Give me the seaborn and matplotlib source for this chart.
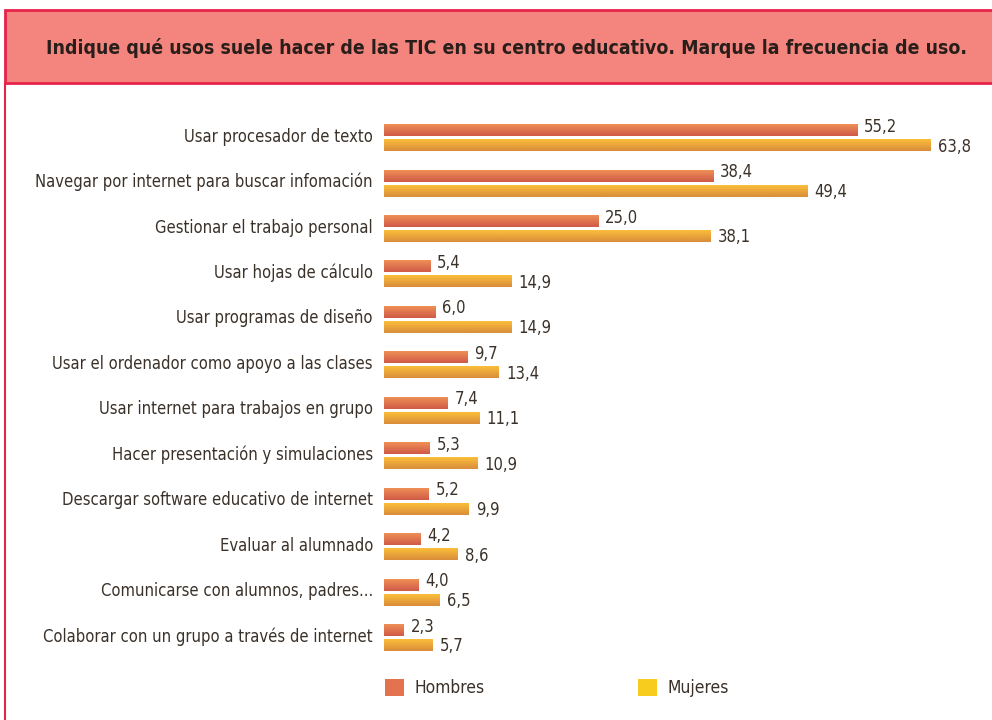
import matplotlib
matplotlib.use("Agg")
import matplotlib.pyplot as plt
import seaborn as sns
import pandas as pd
import numpy as np
from matplotlib import font_manager
from matplotlib.patches import Rectangle, Patch
from matplotlib.lines import Line2D
from matplotlib.textpath import TextPath
from matplotlib.font_manager import FontProperties
from matplotlib.colors import LinearSegmentedColormap
import matplotlib.transforms as mtransforms

categories = [
    "Usar procesador de texto",
    "Navegar por internet para buscar infomación",
    "Gestionar el trabajo personal",
    "Usar hojas de cálculo",
    "Usar programas de diseño",
    "Usar el ordenador como apoyo a las clases",
    "Usar internet para trabajos en grupo",
    "Hacer presentación y simulaciones",
    "Descargar software educativo de internet",
    "Evaluar al alumnado",
    "Comunicarse con alumnos, padres...",
    "Colaborar con un grupo a través de internet",
]
hombres = [55.2, 38.4, 25.0, 5.4, 6.0, 9.7, 7.4, 5.3, 5.2, 4.2, 4.0, 2.3]
mujeres = [63.8, 49.4, 38.1, 14.9, 14.9, 13.4, 11.1, 10.9, 9.9, 8.6, 6.5, 5.7]
series = ["Hombres", "Mujeres"]
title = "Indique qué usos suele hacer de las TIC en su centro educativo. Marque la frecuencia de uso."

df = pd.DataFrame({
    "cat": categories * 2,
    "val": hombres + mujeres,
    "serie": [series[0]] * len(categories) + [series[1]] * len(categories),
})

sns.set_theme(style="white")

# pick a narrow font if one is installed
entries = font_manager.fontManager.ttflist
fam, stretch = None, "normal"
for e in entries:
    if ("ondensed" in e.fname or "Narrow" in e.fname) and e.weight in (400, "normal", "regular"):
        fam, stretch = e.name, e.stretch
        break
if fam is None:
    fam = "Liberation Sans"
plt.rcParams["font.family"] = [fam, "DejaVu Sans"]
plt.rcParams["font.stretch"] = stretch


def width_px(s, size, weight="normal"):
    fp = FontProperties(family=[fam, "DejaVu Sans"], size=size, weight=weight, stretch=stretch)
    tp = TextPath((0, 0), s, prop=fp)
    ext = tp.get_extents()
    return ext.width * 100 / 72.0


lab_size = 12 * 333 / width_px(categories[1], 12)
ttl_size = 14 * 915 / width_px(title, 14, "bold")

W, H = 992, 720
fig = plt.figure(figsize=(W / 100, H / 100), dpi=100)
fig.patch.set_facecolor("white")

c_h = "#E2734E"
c_m = "#EEA63C"
grad_h = ["#EF8F56", "#D05A48"]
grad_m = ["#FBBE3A", "#D98D3A"]
txt = "#3A3129"

# header box
fig.patches.append(Rectangle((5 / W, 1 - 83 / H), 1.1, 73 / H, transform=fig.transFigure,
                             facecolor="#F4857E", edgecolor="#E8234A", linewidth=2, zorder=0))
fig.lines.append(Line2D([5 / W, 5 / W], [0, 1 - 83 / H], transform=fig.transFigure,
                        color="#E8234A", linewidth=1.5))
fig.text(507 / W, 1 - 48 / H, title, ha="center", va="center", fontsize=ttl_size,
         fontweight="bold", color="#2A1E1A")

ax = fig.add_axes([384 / W, 0.0767, 0.992 - 384 / W, 0.770])
sns.barplot(data=df, y="cat", x="val", hue="serie", orient="h", ax=ax,
            palette=[c_h, c_m], width=0.66, gap=0.2, legend=False, saturation=1)

# vertical gradient on each bar
grad = np.linspace(0, 1, 32).reshape(-1, 1)
for cont, cols in zip(ax.containers, [grad_h, grad_m]):
    cmap = LinearSegmentedColormap.from_list("g", cols)
    for p in cont.patches:
        x, y, w, h = p.get_x(), p.get_y(), p.get_width(), p.get_height()
        ax.imshow(grad, cmap=cmap, aspect="auto", origin="upper",
                  extent=(x, x + w, y + h, y), zorder=p.get_zorder() + 0.1,
                  interpolation="bilinear")

ax.set_xlim(0, 70)
ax.set_ylim(11.6, -0.6)
ax.set_xlabel("")
ax.set_ylabel("")
ax.set_xticks([])
for s in ax.spines.values():
    s.set_visible(False)
ax.tick_params(axis="y", length=0, pad=8, labelsize=lab_size, labelcolor=txt)
ax.set_facecolor("none")
shift = mtransforms.ScaledTranslation(0, 3 / 100, fig.dpi_scale_trans)
for lbl in ax.get_yticklabels():
    lbl.set_transform(lbl.get_transform() + shift)

for cont, dy in zip(ax.containers, [2.5, -1.0]):
    anns = ax.bar_label(cont, labels=[f"{v:.1f}".replace(".", ",") for v in cont.datavalues],
                        padding=5, fontsize=lab_size, color=txt)
    for a in anns:
        a.xyann = (5, dy)

handles = [Patch(facecolor=c_h, edgecolor="none"), Patch(facecolor="#F8CC1E", edgecolor="none")]
fig.legend(handles, series, loc="center left", bbox_to_anchor=(369 / W, 1 - 688 / H),
           ncol=2, frameon=False, fontsize=lab_size * 1.05, handlelength=1.1, handleheight=1.1,
           handletextpad=0.6, columnspacing=8.85, labelcolor=txt)

fig.savefig("out.png", dpi=100)
